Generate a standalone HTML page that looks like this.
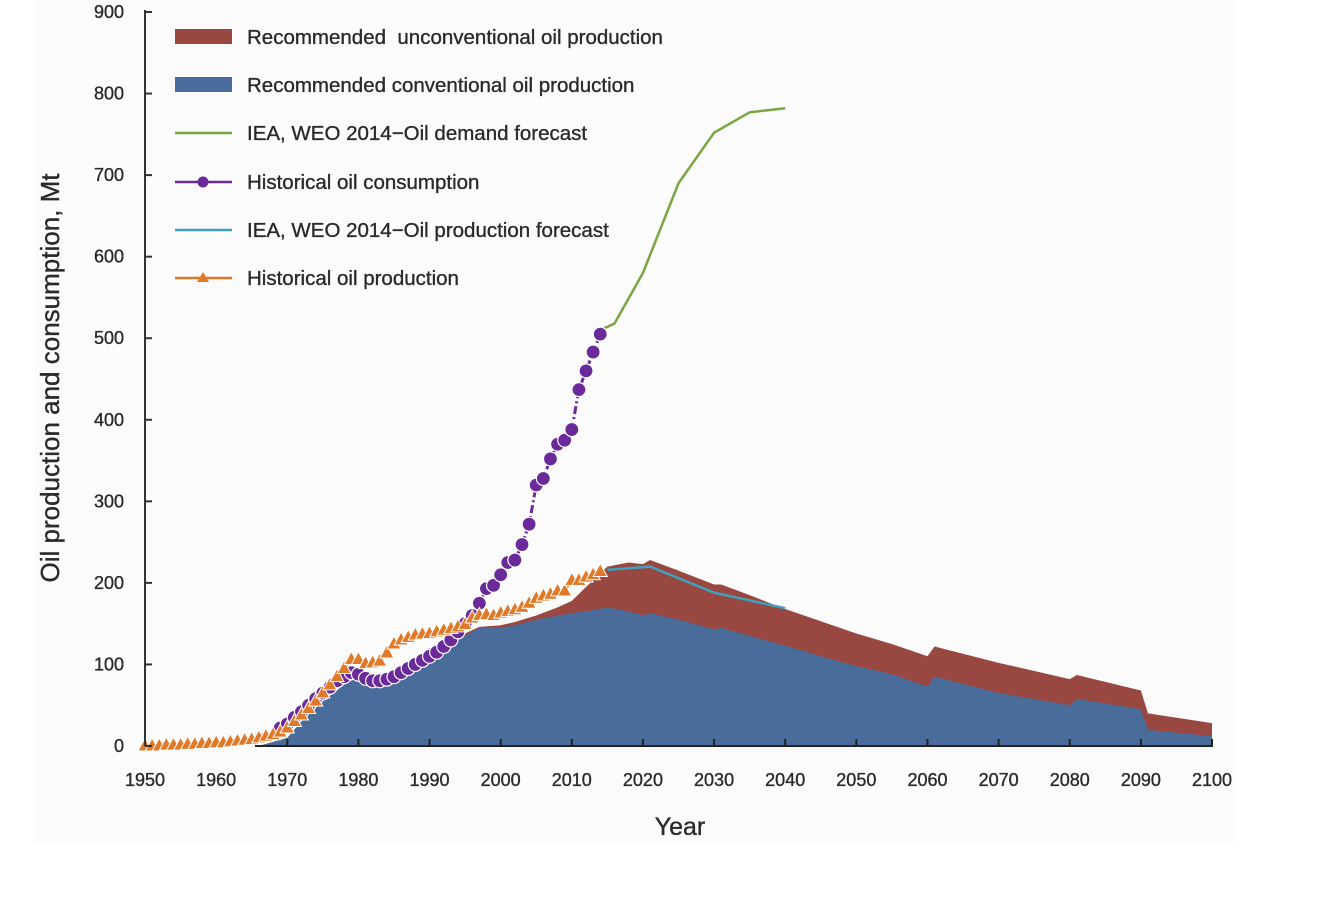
<!DOCTYPE html>
<html><head><meta charset="utf-8"><style>
html,body{margin:0;padding:0;background:#fff;}
svg{display:block;font-family:"Liberation Sans",Arial,sans-serif;}
text{white-space:pre;}
</style></head><body>
<svg id="chart" width="1322" height="902" viewBox="0 0 1322 902">
<rect x="35" y="0" width="1200" height="843" fill="#fbfbfb"/>
<g id="areas"></g><g id="lines"></g><g id="axes"></g><g id="legend"></g>
</svg>
<script>
const histYears=[1950,1951,1952,1953,1954,1955,1956,1957,1958,1959,1960,1961,1962,1963,1964,1965,1966,1967,1968,1969,1970,1971,1972,1973,1974,1975,1976,1977,1978,1979,1980,1981,1982,1983,1984,1985,1986,1987,1988,1989,1990,1991,1992,1993,1994,1995,1996,1997,1998,1999,2000,2001,2002,2003,2004,2005,2006,2007,2008,2009,2010,2011,2012,2013,2014];
const consumption=[1,1,2,2,2,3,3,3,4,4,5,5,6,7,8,10,12,15,18,22,27,35,42,50,58,65,72,80,85,90,88,83,80,80,82,85,90,95,100,105,110,115,122,130,140,150,160,175,193,197,210,225,228,247,272,320,328,352,370,375,388,437,460,483,505];
const production=[0,0,0,1,1,1,2,2,3,3,4,4,5,6,7,8,10,12,14,17,22,30,38,46,55,65,75,85,95,106,106,101,102,104,114,125,130,133,136,137,138,140,142,144,146,149,157,160,161,160,163,165,167,170,175,181,184,186,190,190,203,203,207,210,214];
const areaYears=[1966,1970,1972,1975,1978,1980,1982,1985,1988,1990,1993,1995,1997,2000,2002,2005,2008,2010,2012,2015,2018,2020,2021,2025,2030,2031,2035,2040,2045,2050,2055,2060,2061,2070,2080,2081,2090,2091,2100];
const conventional=[0,10,30,55,75,85,78,88,105,118,125,135,145,145,148,155,160,163,165,170,165,160,163,155,143,145,135,123,110,98,88,73,85,65,50,58,45,20,12];
const totalProd=[0,10,30,55,75,85,80,90,108,120,128,138,146,148,152,160,170,178,195,220,225,223,228,215,198,198,185,168,153,138,125,110,122,102,82,87,68,40,28];
const prodForecastYears=[2015,2021,2030,2040];
const prodForecast=[216,220,188,169];
const demandYears=[2014,2016,2020,2025,2030,2035,2040];
const demand=[510,518,580,690,752,777,782];
const xTicks=[1950,1960,1970,1980,1990,2000,2010,2020,2030,2040,2050,2060,2070,2080,2090,2100];
const yTicks=[0,100,200,300,400,500,600,700,800,900];

const NS='http://www.w3.org/2000/svg';
const X=y=>145+(y-1950)*(1067/150);
const Y=v=>746-v*(734/900);
function mk(tag,attrs,parent){const e=document.createElementNS(NS,tag);for(const k in attrs)e.setAttribute(k,attrs[k]);parent.appendChild(e);return e;}
const gA=document.getElementById('areas'),gL=document.getElementById('lines'),gX=document.getElementById('axes'),gG=document.getElementById('legend');
const TXT={fill:'#2a2a2a',stroke:'#2a2a2a','stroke-width':0.35};

const topPts=areaYears.map((y,i)=>X(y)+','+Y(totalProd[i])).join(' ');
const red=mk('polygon',{points:X(areaYears[0])+','+Y(0)+' '+topPts+' '+X(2100)+','+Y(0),fill:'#984840'},gA);


const bluePts=areaYears.map((y,i)=>X(y)+','+Y(conventional[i])).join(' ');
const blue=mk('polygon',{points:X(areaYears[0])+','+Y(0)+' '+bluePts+' '+X(2100)+','+Y(0),fill:'#4a6c9a'},gA);



const pf=mk('polyline',{points:prodForecastYears.map((y,i)=>X(y)+','+Y(prodForecast[i])).join(' '),fill:'none',stroke:'#3fa0bf','stroke-width':2.5},gL);


const dl=mk('polyline',{points:demandYears.map((y,i)=>X(y)+','+Y(demand[i])).join(' '),fill:'none',stroke:'#79a640','stroke-width':2.5},gL);


const cl=mk('polyline',{points:histYears.map((y,i)=>X(y)+','+Y(consumption[i])).join(' '),fill:'none',stroke:'#6a2a9a','stroke-width':3,'stroke-dasharray':'8 3 2 3'},gL);


histYears.forEach((y,i)=>{const small=consumption[i]<20;
 const c=mk('circle',{cx:X(y),cy:Y(consumption[i]),r:small?2:7,fill:small?'#b49ad8':'#6a2a9a',stroke:'#fff','stroke-width':small?0:1.2},gL);
 
 });
const pl=mk('polyline',{points:histYears.map((y,i)=>X(y)+','+Y(production[i])).join(' '),fill:'none',stroke:'#e07a28','stroke-width':2},gL);


histYears.forEach((y,i)=>{const cx=X(y),cy=Y(production[i]);
 const tri=mk('polygon',{points:cx+','+(cy-8)+' '+(cx-7)+','+(cy+5)+' '+(cx+7)+','+(cy+5),fill:'#e07a28',stroke:'#fff','stroke-width':1},gL);
 
 });

const ya=mk('line',{x1:145,y1:10,x2:145,y2:746,stroke:'#333','stroke-width':2},gX);


const xa=mk('line',{x1:255,y1:746,x2:1213,y2:746,stroke:'#222','stroke-width':2},gX);


yTicks.forEach(v=>{mk('line',{x1:145,y1:Y(v),x2:152,y2:Y(v),stroke:'#333','stroke-width':2},gX);
 const tx=mk('text',Object.assign({x:124,y:Y(v)+6,'text-anchor':'end','font-size':18},TXT),gX);tx.textContent=v;
 
 });
xTicks.forEach(v=>{if(v>1965)mk('line',{x1:X(v),y1:746,x2:X(v),y2:739,stroke:'#222','stroke-width':2},gX);
 const tx=mk('text',Object.assign({x:X(v),y:786,'text-anchor':'middle','font-size':18},TXT),gX);tx.textContent=v;
 
 });
const xt=mk('text',Object.assign({x:680,y:835,'text-anchor':'middle','font-size':25},TXT),gX);xt.textContent='Year';


const yt=mk('text',Object.assign({x:59,y:378,'text-anchor':'middle','font-size':26,transform:'rotate(-90 59 378)'},TXT),gX);yt.textContent='Oil production and consumption, Mt';



const legLabels=['Recommended  unconventional oil production','Recommended conventional oil production','IEA, WEO 2014\u2212Oil demand forecast','Historical oil consumption','IEA, WEO 2014\u2212Oil production forecast','Historical oil production'];
const legY=[37,85,133,182,230,278];
legLabels.forEach((lab,i)=>{const y=legY[i];
 const g=mk('g',{},gG);
 
 
 if(i<2)mk('rect',{x:175,y:y-8,width:57,height:15,fill:i==0?'#984840':'#4a6c9a'},g);
 else{const col=['#79a640','#6a2a9a','#3fa0bf','#e07a28'][i-2];mk('line',{x1:175,y1:y,x2:232,y2:y,stroke:col,'stroke-width':2.5},g);
  if(i==3)mk('circle',{cx:203,cy:y,r:5.5,fill:col},g);
  if(i==5)mk('polygon',{points:'203,'+(y-6)+' 197,'+(y+4)+' 209,'+(y+4),fill:col},g);}
 const tx=mk('text',Object.assign({x:247,y:y+7,'font-size':20.5},TXT),g);tx.textContent=lab;});
</script>
</body></html>
